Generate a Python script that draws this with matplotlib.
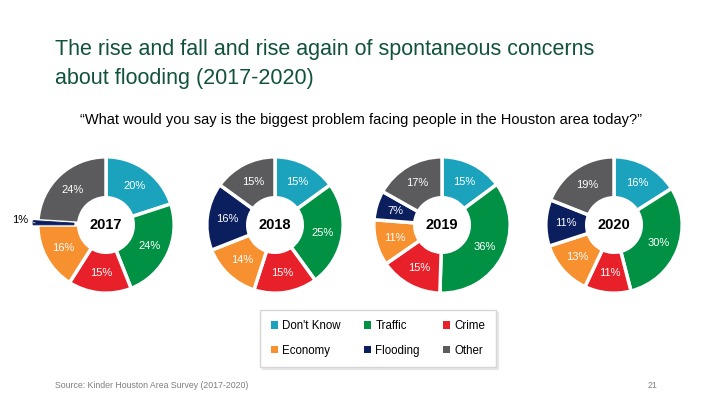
import numpy as np
import matplotlib.pyplot as plt
from matplotlib.patches import Patch

plt.rcParams['font.family'] = ['Liberation Sans', 'DejaVu Sans']

# ----------------------------
# Data
# ----------------------------
categories = ["Don't Know", "Traffic", "Crime", "Economy", "Flooding", "Other"]
colors = ['#1BA3BD', '#009144', '#E8202A', '#F7902F', '#0B1F5E', '#5B5B5D']
years = ['2017', '2018', '2019', '2020']
shares = {
    '2017': [20, 24, 15, 16, 1, 24],
    '2018': [15, 25, 15, 14, 16, 15],
    '2019': [15, 36, 15, 11, 7, 17],
    '2020': [16, 30, 11, 13, 11, 19],
}

title_lines = ['The rise and fall and rise again of spontaneous concerns',
               'about flooding (2017-2020)']
question = '\u201cWhat would you say is the biggest problem facing people in the Houston area today?\u201d'
source = 'Source: Kinder Houston Area Survey (2017-2020)'

# ----------------------------
# Figure
# ----------------------------
W, H = 720, 405
fig = plt.figure(figsize=(7.2, 4.05), dpi=100)
fig.patch.set_facecolor('white')

for line, yb in zip(title_lines, [55, 84]):
    fig.text(55 / W, 1 - yb / H, line, ha='left', va='baseline', fontsize=15.5,
             color='#11523D')
fig.text(80 / W, 1 - 120 / H, question, ha='left', va='center', fontsize=10.5,
         color='black')

centers_x = [106, 275, 442, 614]
center_y = 225
box = 150  # axes size in px, radius 1 -> 68 px with lim 1.1

for yr, cx in zip(years, centers_x):
    ax = fig.add_axes([(cx - box / 2) / W, (H - center_y - box / 2) / H, box / W, box / H])
    vals = shares[yr]
    explode = [0.07 if v < 3 else 0 for v in vals]
    wedges, _ = ax.pie(vals, colors=colors, startangle=90, counterclock=False,
                       radius=1.0, explode=explode,
                       wedgeprops=dict(width=0.6, edgecolor='white', linewidth=2.5))
    ax.set_xlim(-1.1, 1.1)
    ax.set_ylim(-1.1, 1.1)
    ax.set_aspect('equal')
    ax.axis('off')
    ax.text(0, 0, yr, ha='center', va='center', fontsize=10.5, fontweight='bold')
    for w, v, c in zip(wedges, vals, colors):
        ang = np.deg2rad((w.theta1 + w.theta2) / 2)
        if v < 3:
            # tiny slice: draw it on top so the white gaps don't swallow it
            w.set_edgecolor(c)
            w.set_linewidth(0.6)
            w.set_zorder(3)
            ax.annotate(f'{v}%', xy=(np.cos(ang) * 1.04, np.sin(ang) * 1.04),
                        xytext=(-1.14, np.sin(ang) + 0.04), ha='right', va='center',
                        fontsize=8, color='black', annotation_clip=False,
                        arrowprops=dict(arrowstyle='-', color='#A6A6A6', lw=0.8,
                                        shrinkA=1, shrinkB=0))
        else:
            ax.text(np.cos(ang) * 0.71, np.sin(ang) * 0.71, f'{v}%', ha='center',
                    va='center', fontsize=8, color='white')

handles = [Patch(facecolor=c, edgecolor='none') for c in colors]
order = [0, 3, 1, 4, 2, 5]
leg = fig.legend([handles[i] for i in order], [categories[i] for i in order],
                 ncol=3, loc='center', bbox_to_anchor=(378 / W, 1 - 338.5 / H),
                 fontsize=8.3, frameon=True, fancybox=False, edgecolor='#D6D6D6',
                 shadow={'color': '#DDDDDD', 'alpha': 0.6, 'ox': 1.5, 'oy': -1.5},
                 handlelength=0.6, handleheight=0.6, handletextpad=0.4,
                 columnspacing=2.0, labelspacing=1.1, borderpad=0.9)

fig.text(55 / W, 1 - 385 / H, source, ha='left', va='center', fontsize=6.3,
         color='#7F7F7F')
fig.text(648 / W, 1 - 385 / H, '21', ha='left', va='center', fontsize=6.3,
         color='#7F7F7F')

fig.savefig('out.png', dpi=100)
